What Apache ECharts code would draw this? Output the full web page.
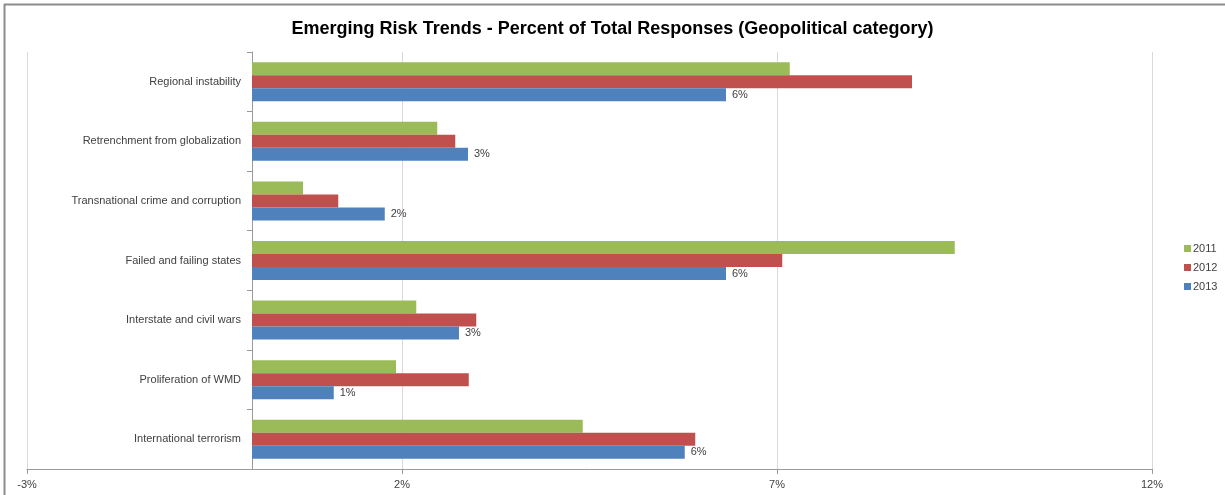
<!DOCTYPE html>
<html>
<head>
<meta charset="utf-8">
<script src="https://cdn.jsdelivr.net/npm/echarts@6/dist/echarts.min.js"></script>
<style>
html,body{margin:0;padding:0;background:#fff;}
#chart{width:1225px;height:495px;}
</style>
</head>
<body>
<div id="chart"></div>
<script>
const categories = [
  "Regional instability",
  "Retrenchment from globalization",
  "Transnational crime and corruption",
  "Failed and failing states",
  "Interstate and civil wars",
  "Proliferation of WMD",
  "International terrorism"
];
const seriesNames = ["2011", "2012", "2013"];
const values2011 = [7.17, 2.47, 0.68, 9.37, 2.19, 1.92, 4.41];
const values2012 = [8.80, 2.71, 1.15, 7.07, 2.99, 2.89, 5.91];
const values2013 = [6.32, 2.88, 1.77, 6.32, 2.76, 1.09, 5.77];
const tickMin = -3, tickMax = 12, tickStep = 5;
const colors = ["#9BBB59", "#C0504D", "#4F81BD"];

const chart = echarts.init(document.getElementById('chart'), null, {renderer: 'canvas'});
const font = "Liberation Sans";
const allValues = [values2011, values2012, values2013];
const gridLeft = 27, gridRight = 73;
const plotWidth = 1225 - gridLeft - gridRight;
// shift the category axis so it sits on the value 0 of the x axis
const zeroOffset = -plotWidth * (0 - tickMin) / (tickMax - tickMin);
chart.setOption({
  animation: false,
  backgroundColor: '#fff',
  title: {
    text: "Emerging Risk Trends - Percent of Total Responses (Geopolitical category)",
    left: 'center',
    top: 15,
    textStyle: {fontFamily: font, fontSize: 18, fontWeight: 'bold', color: '#000'}
  },
  legend: {
    orient: 'vertical',
    left: 1179,
    top: 238,
    itemWidth: 7,
    itemHeight: 7,
    itemGap: 8,
    icon: 'rect',
    textStyle: {fontFamily: font, fontSize: 11, color: '#404040', padding: [0,0,0,-3]},
    data: seriesNames
  },
  grid: {left: gridLeft, right: gridRight, top: 52, bottom: 26, containLabel: false, outerBoundsMode: 'none'},
  xAxis: {
    type: 'value',
    min: tickMin, max: tickMax, interval: tickStep,
    axisLine: {show: true, onZero: false, lineStyle: {color: '#9a9a9a'}},
    axisTick: {show: true, length: 5, lineStyle: {color: '#9a9a9a'}},
    axisLabel: {formatter: v => v + '%', fontFamily: font, fontSize: 11, color: '#404040', margin: 10},
    splitLine: {show: true, lineStyle: {color: '#d9d9d9'}}
  },
  yAxis: {
    type: 'category',
    inverse: true,
    data: categories,
    offset: zeroOffset,
    axisLine: {show: true, onZero: false, lineStyle: {color: '#9a9a9a'}},
    axisTick: {show: true, length: 5, lineStyle: {color: '#9a9a9a'}},
    axisLabel: {fontFamily: font, fontSize: 11, color: '#404040', margin: 11}
  },
  series: seriesNames.map((name, i) => ({
    name: name,
    type: 'bar',
    data: allValues[i],
    barWidth: 13,
    barGap: '0%',
    itemStyle: {color: colors[i]},
    label: i === 2 ? {
      show: true, position: 'right', distance: 6,
      formatter: p => Math.round(p.value) + '%',
      fontFamily: font, fontSize: 11, color: '#404040'
    } : {show: false}
  })),
  graphic: [
    {type: 'line', shape: {x1: 4.5, y1: 4, x2: 4.5, y2: 495}, style: {stroke: '#8c8c8c', lineWidth: 2}},
    {type: 'line', shape: {x1: 4, y1: 4.5, x2: 1225, y2: 4.5}, style: {stroke: '#8c8c8c', lineWidth: 2}}
  ]
});
</script>
</body>
</html>
